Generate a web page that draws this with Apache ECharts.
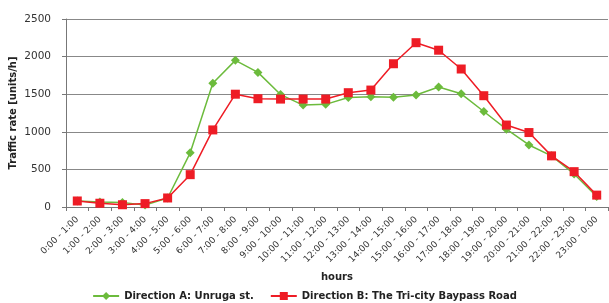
<!DOCTYPE html>
<html>
<head>
<meta charset="UTF-8">
<title>Traffic rate</title>
<script type="text/javascript" src="https://cdn.jsdelivr.net/npm/echarts@6/dist/echarts.min.js"></script>
<style>
  html, body { margin: 0; padding: 0; background: #fff; }
</style>
</head>
<body>
    <div id="main" style="width: 609px; height: 303px;"></div>
    <script type="text/javascript">
        var hours = ['0:00 - 1:00', '1:00 - 2:00', '2:00 - 3:00', '3:00 - 4:00', '4:00 - 5:00',
            '5:00 - 6:00', '6:00 - 7:00', '7:00 - 8:00', '8:00 - 9:00', '9:00 - 10:00',
            '10:00 - 11:00', '11:00 - 12:00', '12:00 - 13:00', '13:00 - 14:00', '14:00 - 15:00',
            '15:00 - 16:00', '16:00 - 17:00', '17:00 - 18:00', '18:00 - 19:00', '19:00 - 20:00',
            '20:00 - 21:00', '21:00 - 22:00', '22:00 - 23:00', '23:00 - 0:00'];
        var directionA = [80, 65, 60, 25, 120, 720, 1645, 1950, 1790, 1495, 1355, 1365, 1455, 1465, 1460,
            1490, 1595, 1505, 1270, 1035, 825, 680, 440, 140];
        var directionB = [80, 50, 30, 45, 120, 430, 1025, 1500, 1440, 1435, 1435, 1435, 1520, 1555, 1905,
            2185, 2085, 1835, 1480, 1090, 990, 680, 470, 158];
        var yTicks = [0, 500, 1000, 1500, 2000, 2500];

        var myChart = echarts.init(document.getElementById('main'));
        var font = 'DejaVu Sans';

        var option = {
            animation: false,
            textStyle: { fontFamily: font },
            grid: { left: 61, top: 19, right: 1, bottom: 96, containLabel: false },
            legend: {
                top: 286,
                left: 'center',
                itemWidth: 26,
                itemHeight: 10,
                itemGap: 16,
                textStyle: { fontFamily: font, fontSize: 10, fontWeight: 'bold', color: '#222' },
                data: ['Direction A: Unruga st.', 'Direction B: The Tri-city Baypass Road']
            },
            xAxis: {
                type: 'category',
                data: hours,
                name: 'hours',
                nameLocation: 'middle',
                nameGap: 65,
                nameMoveOverlap: false,
                nameTextStyle: { fontFamily: font, fontSize: 10, fontWeight: 'bold', color: '#222' },
                boundaryGap: true,
                axisLine: { lineStyle: { color: '#777' } },
                axisTick: { show: true, length: 4, lineStyle: { color: '#777' } },
                axisLabel: { rotate: 45, fontSize: 9, color: '#333', margin: 11, interval: 0 }
            },
            yAxis: {
                type: 'value',
                min: yTicks[0],
                max: yTicks[yTicks.length - 1],
                interval: 500,
                name: 'Traffic rate [units/h]',
                nameLocation: 'middle',
                nameGap: 48,
                nameMoveOverlap: false,
                nameTextStyle: { fontFamily: font, fontSize: 10, fontWeight: 'bold', color: '#222' },
                axisLine: { show: true, lineStyle: { color: '#777' } },
                axisTick: { show: true, length: 4, lineStyle: { color: '#777' } },
                axisLabel: {
                    fontSize: 10.5, color: '#333', margin: 15,
                    formatter: function (v) { return String(v); }
                },
                splitLine: { lineStyle: { color: '#888', width: 1 } }
            },
            series: [
                {
                    name: 'Direction A: Unruga st.',
                    type: 'line',
                    data: directionA,
                    symbol: 'diamond',
                    symbolSize: 9,
                    itemStyle: { color: '#6cbb3c' },
                    lineStyle: { color: '#6cbb3c', width: 1.5 }
                },
                {
                    name: 'Direction B: The Tri-city Baypass Road',
                    type: 'line',
                    data: directionB,
                    symbol: 'rect',
                    symbolSize: 9,
                    itemStyle: { color: '#ee1c25' },
                    lineStyle: { color: '#ee1c25', width: 1.5 }
                }
            ]
        };

        myChart.setOption(option);
    </script>
</body>
</html>
